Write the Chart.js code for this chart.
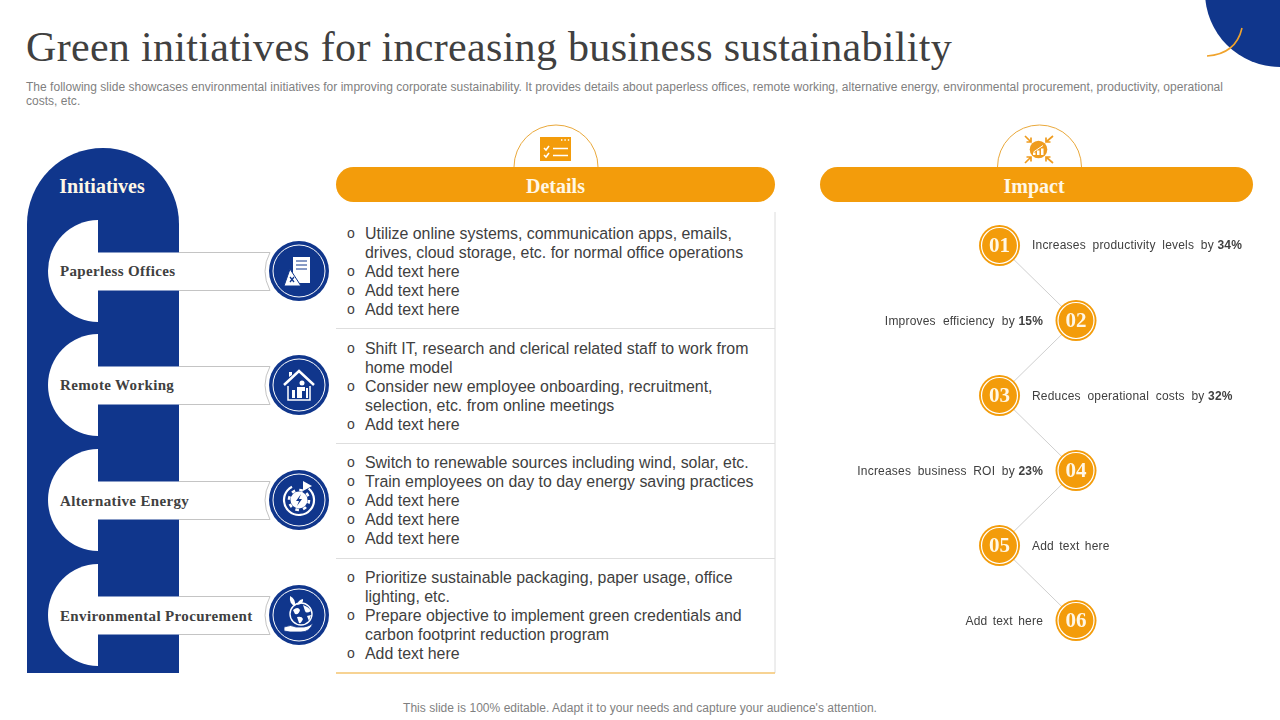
<!DOCTYPE html>
<html>
<head>
<meta charset="utf-8">
<title>Green initiatives</title>
<script src="https://cdn.jsdelivr.net/npm/chart.js@4"></script>
<style>
  html, body { margin: 0; padding: 0; background: #fff; overflow: hidden; }
  #slide { position: relative; width: 1280px; height: 720px; font-family: "Liberation Sans", Arial, sans-serif; color: #404040; }
  #slide > * { position: absolute; }
  #art { left: 0; top: 0; }
  #impact-chart { left: 820px; top: 210px; }
  h1 { margin: 0; left: 26px; top: 22px; font: 400 42px/50px "Liberation Serif", serif; letter-spacing: .31px; color: #404040; white-space: nowrap; }
  .sub { left: 26px; width: 1215px; top: 80px; font-size: 12px; line-height: 14px; color: #7f7f7f; letter-spacing: .02px; }
  .foot { left: 0; width: 1280px; top: 701px; text-align: center; font-size: 12px; line-height: 14px; color: #7f7f7f; letter-spacing: .03px; }
  .head { font: 700 20px/24px "Liberation Serif", serif; color: #fff7e6; text-align: center; top: 174px; }
  .init { left: 60px; font: 700 15px/18px "Liberation Serif", serif; color: #404040; white-space: nowrap; letter-spacing: .35px; }
  .line { left: 365px; font-size: 15.92px; line-height: 19px; color: #404040; white-space: pre; }
  .dot { left: 347px; font-size: 14px; line-height: 19px; color: #404040; }
</style>
</head>
<body>
<div id="slide">
  <svg id="art" width="1280" height="720" viewBox="0 0 1280 720">
    <circle cx="1280" cy="-8" r="75" fill="#10368c"/>
    <path d="M1207 56 Q1236 54 1242 28" fill="none" stroke="#f0a32c" stroke-width="1.6"/>

    <!-- initiatives column -->
    <path d="M27 673 V224 A76 76 0 0 1 179 224 V673 Z" fill="#10368c"/>
    <g id="rows"></g>

    <!-- details panel rules -->
    <path d="M775 212 V673" stroke="#dcdcdc" stroke-width="1"/>
    <path d="M336 328.5 H775 M336 443.5 H775 M336 558.5 H775" stroke="#dedede" stroke-width="1"/>
    <path d="M336 673 H775" stroke="#f4c56f" stroke-width="1.5"/>

    <!-- header arcs and pills -->
    <path d="M514 167 A42 42 0 0 1 598 167" fill="none" stroke="#eaa93c" stroke-width="1"/>
    <path d="M997.5 167 A42 42 0 0 1 1081.5 167" fill="none" stroke="#eaa93c" stroke-width="1"/>
    <rect x="336" y="167" width="439" height="35" rx="17.5" fill="#f39c0b"/>
    <rect x="820" y="167" width="433" height="35" rx="17.5" fill="#f39c0b"/>

    <!-- details icon -->
    <rect x="540" y="137" width="31" height="24" fill="#f39c0b"/>
    <path d="M561 140 h1.4 M564.4 140 h1.4 M567.8 140 h1.4" stroke="#fff" stroke-width="1.4"/>
    <path d="M544 148 l2 2 l3 -4 M544 155 l2 2 l3 -4" fill="none" stroke="#fff" stroke-width="1.6"/>
    <path d="M553 148.5 H568 M553 155.5 H568" stroke="#fff" stroke-width="1.6"/>

    <!-- impact icon -->
    <circle cx="1038.5" cy="149.5" r="8.8" fill="#ef9c1f"/>
    <path d="M1033 155 h2.5 v-2.5 h-2.5 z M1037 155 h2.5 v-4.5 h-2.5 z M1041 155 h2.5 v-6.5 h-2.5 z" fill="#fff"/>
    <path d="M1033.5 152 L1043 145.5" stroke="#fff" stroke-width="1"/>
    <path d="M1025 136 L1031 142 M1031 137.5 V142 H1026.5 M1053 136 L1046 142 M1046 137.5 V142 H1050.5 M1025 163 L1031 157 M1031 161.5 V157 H1026.5 M1053 163 L1046 157 M1046 161.5 V157 H1050.5" fill="none" stroke="#ef9c1f" stroke-width="1.7"/>
  </svg>

  <h1>Green initiatives for increasing business sustainability</h1>
  <div class="sub">The following slide showcases environmental initiatives for improving corporate sustainability. It provides details about paperless offices, remote working, alternative energy, environmental procurement, productivity, operational costs, etc.</div>
  <div class="head" style="left:27px;width:150px">Initiatives</div>
  <div class="head" style="left:336px;width:439px">Details</div>
  <div class="head" style="left:820px;width:428px">Impact</div>
  <div class="foot">This slide is 100% editable. Adapt it to your needs and capture your audience's attention.</div>
  <canvas id="impact-chart" width="440" height="450" style="width:440px;height:450px"></canvas>
</div>

<script>
'use strict';

const initiativeNames = ['Paperless Offices', 'Remote Working', 'Alternative Energy', 'Environmental Procurement'];

// one entry per printed line, a leading "o " marks a new bullet
const detailGroups = [
  ['o Utilize online systems, communication apps, emails,', 'drives, cloud storage, etc. for normal office operations', 'o Add text here', 'o Add text here', 'o Add text here'],
  ['o Shift IT, research and clerical related staff to work from', 'home model', 'o Consider new employee onboarding, recruitment,', 'selection, etc. from online meetings', 'o Add text here'],
  ['o Switch to renewable sources including wind, solar, etc.', 'o Train employees on day to day energy saving practices', 'o Add text here', 'o Add text here', 'o Add text here'],
  ['o Prioritize sustainable packaging, paper usage, office', 'lighting, etc.', 'o Prepare objective to implement green credentials and', 'carbon footprint reduction program', 'o Add text here'],
];

const impactSteps   = ['01', '02', '03', '04', '05', '06'];
const impactSides   = [0, 1, 0, 1, 0, 1];
const impactText    = ['Increases productivity levels by', 'Improves efficiency by', 'Reduces operational costs by', 'Increases business ROI by', 'Add text here', 'Add text here'];
const impactPercent = [34, 15, 32, 23, null, null];

const BLUE   = '#10368c';
const ORANGE = '#f39c0b';
const WORD_GAPS = [3.15, 3.55, 3.15, 3.05, 1.8, 1.8]; // the labels are justified in the slide

// ─── Left column : white tabs and round icons ─────────────────
const rowCentres = [271, 385, 500, 615];
const icons = [
  `<path d="M-6 -14 H11 V12 H-6 Z" fill="#fff"/><path d="M-3 -10 H8 M-3 -6 H8 M-3 -2 H8" stroke="${BLUE}" stroke-width="1"/>
   <path d="M-9 -2 L2 15 H-15 Z" fill="#fff" stroke="${BLUE}" stroke-width="1"/><path d="M-9 6 l4 5 M-5 6 l-4 5" stroke="${BLUE}" stroke-width="1.3"/>`,
  `<path d="M-10 -8 v-5 h3 v3" fill="#fff"/><path d="M-15 0 L0 -14 L15 0" fill="none" stroke="#fff" stroke-width="2.5"/><path d="M-11 1 V15 H11 V1" fill="none" stroke="#fff" stroke-width="1.5"/>
   <circle cx="3" cy="-2" r="2.5" fill="#fff"/><path d="M-7 5 h3 v8 h-3 z M-2 2 h8 v4 h-3 v7 h-5 z M7 3 h2 v10 h-2 z" fill="#fff"/>`,
  `<circle r="15" fill="none" stroke="#fff" stroke-width="2.2" stroke-dasharray="76 18" transform="rotate(-50)"/><path d="M4 -19 L13 -14 L4 -9 Z" fill="#fff"/>
   <circle r="8.5" fill="#fff"/><circle r="10" fill="none" stroke="#fff" stroke-width="2.6" stroke-dasharray="3.6 4.25"/><path d="M2 -6 L-3 1 H0 L-2 6 L3 -1 H0 Z" fill="${BLUE}"/>`,
  `<circle cx="2" cy="-1" r="11" fill="${BLUE}" stroke="#fff" stroke-width="1.4"/><path d="M-6 -5 q5 -4 7 0 q-1 5 -5 4 z M4 -10 q6 2 8 6 q-5 3 -6 0 z M-2 2 q5 -1 6 2 q-2 5 -4 4 z M8 1 l4 -1 l-2 6 z" fill="#fff"/>
   <path d="M-4 -9 Q-10 -11 -9 -19 Q-3 -16 -4 -9 Z" fill="#fff"/><path d="M-2 -10 Q-1 -15 4 -16 Q5 -11 -2 -10 Z" fill="#fff"/><path d="M-15 12 Q-8 9 -3 12 H5 Q11 11 14 8 Q11 17 2 17 H-9 L-15 16 Z" fill="#fff" stroke="${BLUE}" stroke-width=".8"/>`,
];
document.getElementById('rows').innerHTML = rowCentres.map((y, i) => {
  const top = Math.floor(y - 19) + .5;
  const bottom = top + 38;
  return `
  <ellipse cx="98" cy="${y}" rx="50" ry="51" fill="#fff"/>
  <rect x="98" y="${y - 51}" width="52" height="102" fill="${BLUE}"/>
  <rect x="97" y="${top}" width="174" height="38" fill="#fff"/>
  <path d="M179 ${top} H270 Q260 ${y} 270 ${bottom} H179" fill="#fff" stroke="#c4c4c4" stroke-width="1"/>
  <circle cx="299" cy="${y}" r="30" fill="${BLUE}"/>
  <circle cx="299" cy="${y}" r="26" fill="none" stroke="#fff" stroke-width="1"/>
  <g transform="translate(299 ${y})">${icons[i]}</g>`;
}).join('');

const slide = document.getElementById('slide');
function addText(cls, text, left, top) {
  const el = document.createElement('div');
  el.className = cls;
  el.textContent = text;
  if (left !== null) el.style.left = left + 'px';
  el.style.top = top + 'px';
  slide.appendChild(el);
}

initiativeNames.forEach((name, i) => addText('init', name, 60, rowCentres[i] - 9 + (i > 1 ? 1 : 0)));

// ─── Details list ─────────────────────────────────────────────
const groupTops = [224, 339, 453, 568];
detailGroups.forEach((lines, g) => {
  lines.forEach((line, i) => {
    const top = groupTops[g] + i * 19;
    if (line.startsWith('o ')) addText('dot', 'o', null, top);
    addText('line', line.replace(/^o /, ''), null, top);
  });
});

// ─── Impact steps : zigzag drawn by Chart.js ──────────────────
const impactLabels = {
  id: 'impactLabels',
  afterDatasetsDraw(chart) {
    const { ctx } = chart;
    const pts = chart.getDatasetMeta(0).data;
    ctx.save();
    pts.forEach((p, i) => {
      ctx.textBaseline = 'middle';
      ctx.textAlign = 'center';
      ctx.fillStyle = '#fff7e6';
      ctx.letterSpacing = '0px';
      ctx.wordSpacing = '0px';
      ctx.font = '700 21px "Liberation Serif", serif';
      ctx.fillText(impactSteps[i], p.x, p.y + 1);

      const plain = impactText[i];
      const pct = impactPercent[i] == null ? '' : ` ${impactPercent[i]}%`;
      ctx.textAlign = 'left';
      ctx.letterSpacing = '0.2px';
      ctx.wordSpacing = WORD_GAPS[i] + 'px';
      ctx.font = '12px "Liberation Sans", Arial, sans-serif';
      const w1 = ctx.measureText(plain).width;
      ctx.font = '700 12px "Liberation Sans", Arial, sans-serif';
      const w2 = ctx.measureText(pct).width;
      const x = impactSides[i] === 0 ? p.x + 32.5 : p.x - 33 - w1 - w2;
      ctx.fillStyle = '#404040';
      ctx.font = '12px "Liberation Sans", Arial, sans-serif';
      ctx.fillText(plain, x, p.y + (i === 0 ? 0 : 1));
      ctx.font = '700 12px "Liberation Sans", Arial, sans-serif';
      ctx.fillText(pct, x + w1, p.y + (i === 0 ? 0 : 1));
    });
    ctx.restore();
  },
};

new Chart(document.getElementById('impact-chart').getContext('2d'), {
  type: 'line',
  data: {
    labels: impactSteps,
    datasets: [
      {
        data: impactSides,
        order: 2,
        clip: false,
        borderColor: '#cfcfcf',
        borderWidth: 1,
        pointRadius: 20.5,
        pointBackgroundColor: ORANGE,
        pointBorderWidth: 0,
      },
      {
        data: impactSides,
        order: 1,
        clip: false,
        showLine: false,
        pointRadius: 18,
        pointBackgroundColor: ORANGE,
        pointBorderColor: '#fff',
        pointBorderWidth: 1.2,
      },
    ],
  },
  options: {
    responsive: false,
    animation: false,
    indexAxis: 'y',
    layout: { padding: { left: 179.5, right: 184, top: 35.5, bottom: 39.5 } },
    plugins: { legend: { display: false }, tooltip: { enabled: false } },
    scales: {
      x: { type: 'linear', min: 0, max: 1, display: false },
      y: { type: 'category', offset: false, display: false },
    },
  },
  plugins: [impactLabels],
});
</script>
</body>
</html>
